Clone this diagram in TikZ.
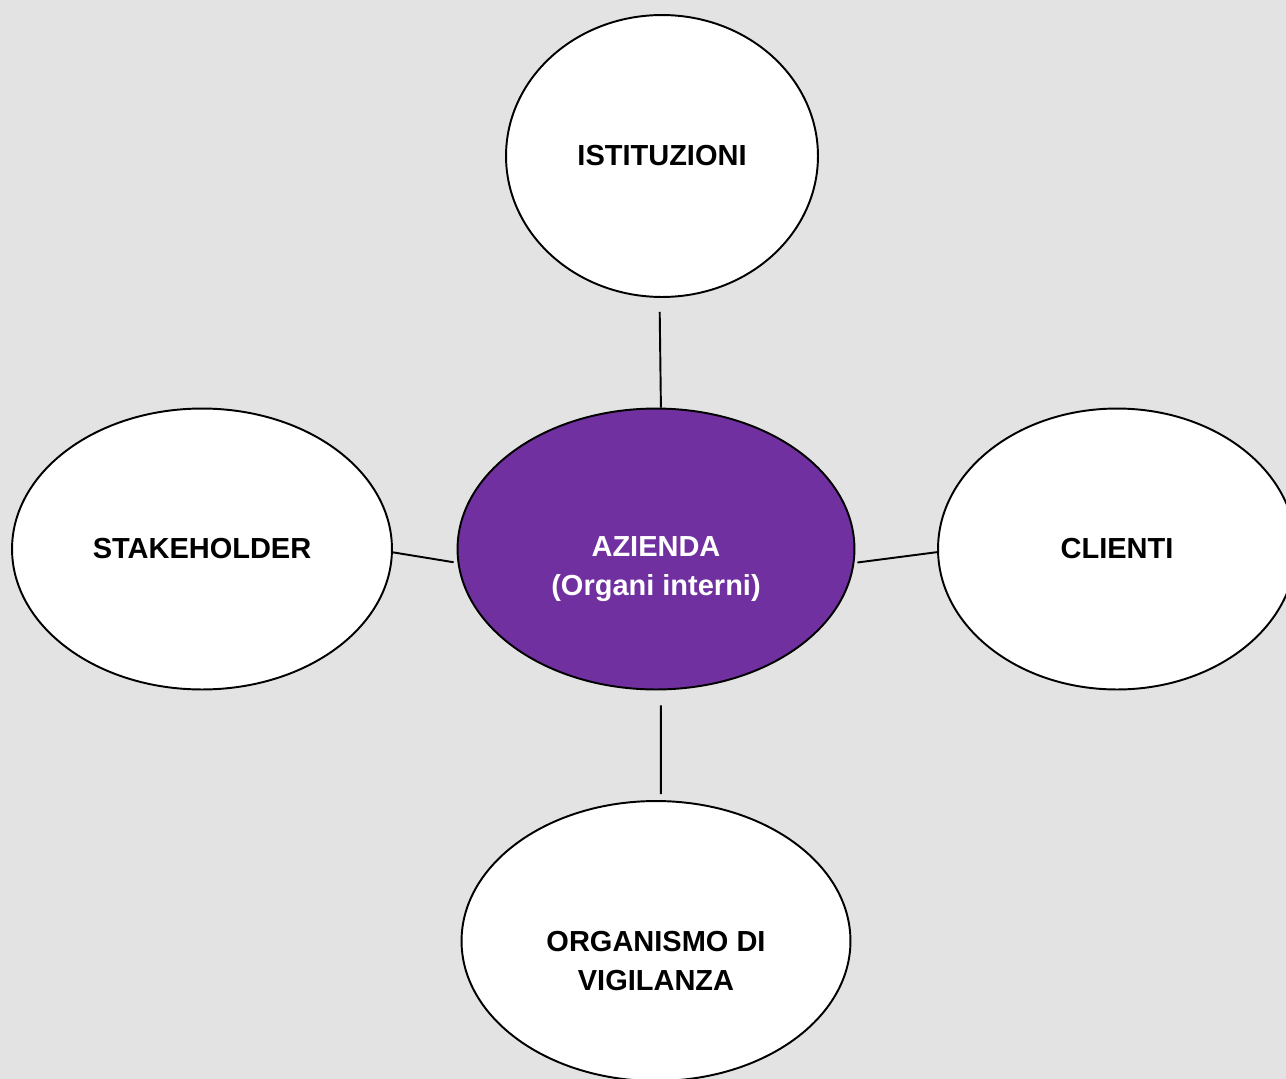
\documentclass[tikz,border=0pt]{standalone}
\usepackage{fontspec}
\setmainfont{Liberation Sans}
\usepackage{xcolor}
\usepackage{tikz}
\usetikzlibrary{shapes.geometric}

\definecolor{bggray}{HTML}{E3E3E3}
\definecolor{azpurple}{HTML}{7030A0}

\begin{document}
\begin{tikzpicture}[x=0.02cm, y=-0.02cm]
\tikzstyle{party} = [ellipse, draw, line width=1.1pt, fill=white, inner sep=0pt, align=center, font=\fontsize{16.5}{22}\selectfont\bfseries]
\tikzstyle{core} = [party, fill=azpurple, text=white]
\tikzstyle{twoline} = [align=center, font=\fontsize{16.5}{22}\selectfont\bfseries, yshift=-0.4cm]
\tikzstyle{link} = [line width=1.1pt]

\fill[bggray] (0,0) rectangle (1286,1079);
\useasboundingbox (0,0) rectangle (1286,1079);

\node (az) [core, minimum width=7.94cm, minimum height=5.62cm,
  label={[twoline, text=white]center:AZIENDA\\(Organi interni)}] at (656,549) {};
\node (ist) [party, minimum width=6.24cm, minimum height=5.64cm] at (662,156) {ISTITUZIONI};
\node (stk) [party, minimum width=7.6cm, minimum height=5.62cm] at (202,549) {STAKEHOLDER};
\node (cli) [party, minimum width=7.16cm, minimum height=5.62cm] at (1117,549) {CLIENTI};
\node (org) [party, minimum width=7.78cm, minimum height=5.6cm,
  label={[twoline]center:ORGANISMO DI\\VIGILANZA}] at (656,941) {};

% connectors
\draw[link, shorten <=0.28cm] (ist.-91) -- (az.88);
\draw[link, shorten >=0.08cm] (stk.-1) -- (az.184);
\draw[link, shorten <=0.06cm] (az.-4) -- (cli.181);
\draw[link, shorten <=0.3cm, shorten >=0.12cm] (az.-88) -- (org.88);

\end{tikzpicture}
\end{document}
